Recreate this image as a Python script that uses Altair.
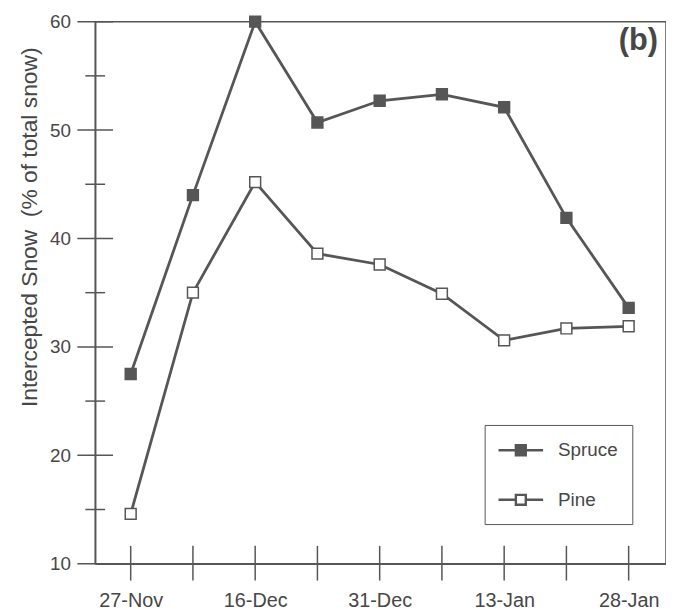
import altair as alt
import pandas as pd

# ---- data ----
dates = ["27-Nov", "", "16-Dec", "", "31-Dec", "", "13-Jan", "", "28-Jan"]
series = ["Spruce", "Pine"]
spruce = [27.5, 44.0, 60.0, 50.7, 52.7, 53.3, 52.1, 41.9, 33.6]
pine = [14.6, 35.0, 45.2, 38.6, 37.6, 34.9, 30.6, 31.7, 31.9]
y_major = [10, 20, 30, 40, 50, 60]
y_minor = [15, 25, 35, 45, 55]
panel_label = ["(b)"]
y_title = "Intercepted Snow \u00a0(% of total snow)"

rows = []
for name, vals in zip(series, [spruce, pine]):
    for i, v in enumerate(vals):
        rows.append({"idx": i, "date": dates[i], "series": name, "value": v})
df = pd.DataFrame(rows)

W, H = 576, 547
GRAY = "#565656"
TXT = "#474747"
FONT = "Liberation Sans"

xscale = alt.Scale(domain=[-0.57, 8.6], nice=False, zero=False)
yscale = alt.Scale(domain=[10, 60], nice=False, zero=False)
x_vals = [i for i, d in enumerate(dates) if d]
label_expr = "[" + ",".join("'%s'" % d for d in dates) + "][datum.value]"

SYMBOL = "M-2.25,0H-0.5M0.5,0H2.25M-0.5,-0.5H0.5V0.5H-0.5Z"

base = alt.Chart(df)

lines = base.mark_line(color=GRAY, strokeWidth=2.8).encode(
    x=alt.X("idx:Q", scale=xscale,
            axis=alt.Axis(values=x_vals, labelExpr=label_expr, title=None,
                          labelFontSize=20, labelPadding=27)),
    y=alt.Y("value:Q", scale=yscale,
            axis=alt.Axis(values=y_major, title=y_title, labelFontSize=19,
                          labelPadding=25, titleX=-66, titleY=207,
                          titleAlign="center", titleBaseline="middle",
                          titleFontSize=23, titleFontWeight="normal")),
    detail="series:N",
)

points = base.mark_point(shape="square", size=120, stroke=GRAY, strokeWidth=1.5,
                         opacity=1, fillOpacity=1).encode(
    x=alt.X("idx:Q", scale=xscale, axis=None),
    y=alt.Y("value:Q", scale=yscale, axis=None),
    fill=alt.Fill("series:N", scale=alt.Scale(domain=series, range=[GRAY, "white"]),
                  legend=alt.Legend(title=None, orient="none", legendX=393, legendY=407,
                                    symbolType=SYMBOL, symbolSize=400,
                                    symbolStrokeColor=GRAY, symbolStrokeWidth=2.4,
                                    symbolOffset=11, labelOffset=26,
                                    labelFontSize=19, labelFont=FONT, labelColor=TXT,
                                    padding=14, rowPadding=28, strokeColor=GRAY,
                                    fillColor="white", direction="vertical")),
)

xticks = alt.Chart(pd.DataFrame({"i": list(range(len(dates)))})).mark_rule(
    color=GRAY, strokeWidth=1.5).encode(
    x=alt.X("i:Q", scale=xscale, axis=None),
    y=alt.value(H - 18), y2=alt.value(H + 17))

ymaj = alt.Chart(pd.DataFrame({"v": y_major})).mark_rule(
    color=GRAY, strokeWidth=1.5).encode(
    y=alt.Y("v:Q", scale=yscale, axis=None),
    x=alt.value(-18), x2=alt.value(18))

ymin = alt.Chart(pd.DataFrame({"v": y_minor})).mark_rule(
    color=GRAY, strokeWidth=1.5).encode(
    y=alt.Y("v:Q", scale=yscale, axis=None),
    x=alt.value(-10), x2=alt.value(10))

label = alt.Chart(pd.DataFrame({"t": panel_label})).mark_text(
    align="right", baseline="middle", fontSize=31, fontWeight="bold",
    font=FONT, color=TXT).encode(
    text="t:N", x=alt.value(W - 8), y=alt.value(20))

chart = alt.layer(lines, xticks, ymaj, ymin, points, label).resolve_axis(
    x="independent", y="independent"
).properties(
    width=W, height=H, background="white",
    autosize=alt.AutoSizeParams(type="none"),
    padding={"left": 88, "top": 11, "right": 0, "bottom": 50},
).configure_view(
    stroke=GRAY, strokeWidth=1.5
).configure_axis(
    domainColor=GRAY, domainWidth=1.5, ticks=False, tickSize=0, grid=False,
    labelColor=TXT, labelFont=FONT, titleColor=TXT, titleFont=FONT,
)

chart.save("out.html", embed_options={"renderer": "svg", "actions": False})
